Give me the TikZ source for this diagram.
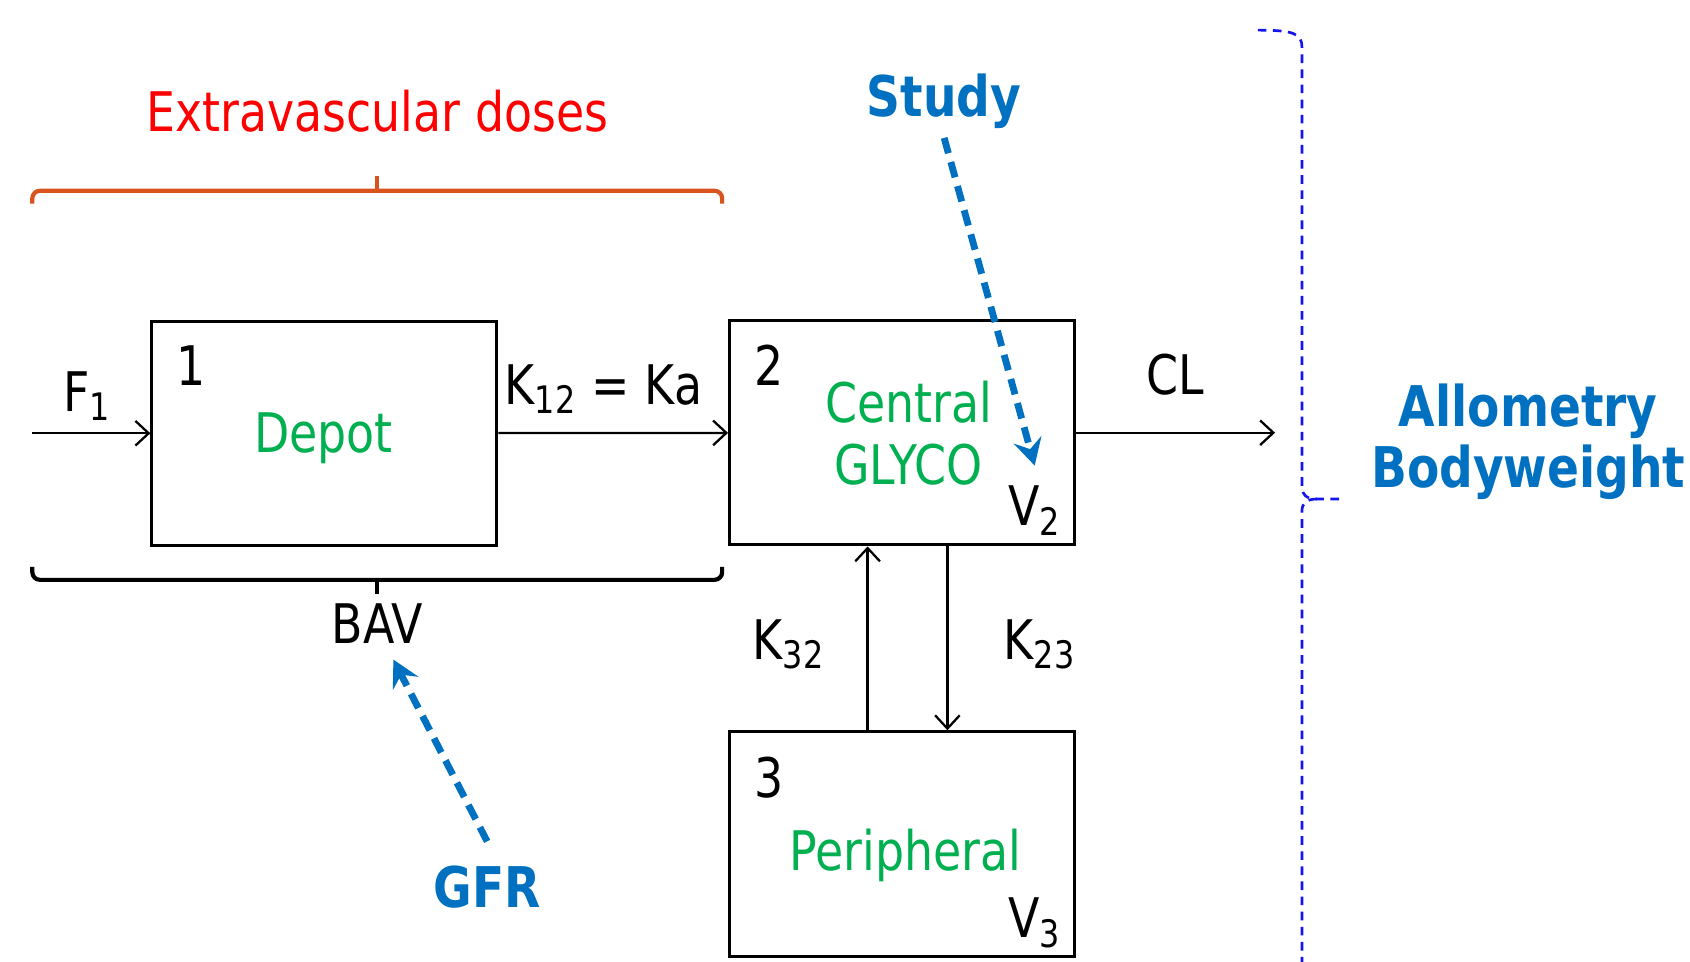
\documentclass[tikz,border=0pt]{standalone}
\usepackage{fontspec}
\setmainfont{DejaVu Sans}[FakeStretch=0.84]
\usepackage{tikz}
\usetikzlibrary{arrows.meta,positioning}
\definecolor{pkgreen}{HTML}{00B050}
\definecolor{pkblue}{HTML}{0070C0}
\definecolor{pkred}{HTML}{FF0000}
\definecolor{pkorange}{HTML}{D9531E}
\definecolor{pkbright}{HTML}{1414F0}
\newcommand{\pkfont}{\fontsize{14.4pt}{16.4pt}\selectfont}
\tikzset{
  cmtbox/.style={
    rectangle, draw=black, line width=0.8pt,
    minimum width=3.2cm, minimum height=2.08cm,
    inner sep=0pt
  },
  numlabel/.style={
    font=\pkfont, anchor=base west, inner sep=0pt
  },
  namelabel/.style={
    font=\pkfont, text=pkgreen, inner sep=0pt, align=center
  },
  ratelabel/.style={
    font=\pkfont, anchor=base, inner sep=0pt
  },
  flow/.style={
    -{Straight Barb[length=3.5pt,width=6.5pt]}, line width=0.6pt
  },
  covlabel/.style={
    font=\fontsize{14.8pt}{16.2pt}\selectfont\bfseries, text=pkblue,
    inner sep=0pt, align=center
  },
  covarrow/.style={
    -{Stealth[length=7pt,width=7.5pt,inset=2.5pt]}, line width=1.8pt,
    dash pattern=on 4.2pt off 2.4pt, color=pkblue
  },
  bracket/.style={
    line width=1.1pt, rounded corners=2pt, color=#1
  },
  bracket/.default=black,
  allobrace/.style={
    line width=0.7pt, color=pkbright, dash pattern=on 0.08cm off 0.06cm
  },
}
\begin{document}
\begin{tikzpicture}[x=0.01cm, y=-0.01cm]
  \useasboundingbox (0,0) rectangle (1568,892);

  % compartments
  \node[cmtbox] (depot) at (301,402) {};
  \node[cmtbox] (central) at (837,401.5) {};
  \node[cmtbox] (peri) at (837,783) {};

  \node[numlabel] (one) at (163,358) {1};
  \node[namelabel, anchor=base] (depotname) at (300,420) {Depot};
  \node[numlabel] (two) at (699,358) {2};
  \node[namelabel] (centralname) at (843,402) {Central\\GLYCO};
  \node[numlabel] (vtwo) at (935,488) {V\textsubscript{2}};
  \node[numlabel] (three) at (699,740) {3};
  \node[namelabel, anchor=base] (periname) at (840,808) {Peripheral};
  \node[numlabel] (vthree) at (935,870) {V\textsubscript{3}};

  % rates
  \coordinate (dose) at (30,402);
  \coordinate (elim) at (1183,401.5);
  \node[numlabel] (fone) at (58,382) {F\textsubscript{1}};
  \node[ratelabel] (ka) at (560,375) {K\textsubscript{12} = Ka};
  \node[ratelabel] (cl) at (1090,366) {CL};
  \node[ratelabel] (kin) at (732,612) {K\textsubscript{32}};
  \node[ratelabel] (kout) at (965,612) {K\textsubscript{23}};

  \draw[flow] (dose) -- (depot);
  \draw[flow] (depot) -- (central);
  \draw[flow] (central) -- (elim);
  \draw[flow] ([xshift=-0.32cm]peri.north) -- ([xshift=-0.32cm]central.south);
  \draw[flow] ([xshift=0.42cm]central.south) -- ([xshift=0.42cm]peri.north);

  % brackets
  \coordinate (evl) at (30,189);
  \coordinate (evr) at (670,189);
  \coordinate (bavl) at (30,526);
  \coordinate (bavr) at (670,526);
  \draw[bracket=pkorange] (evl) -- (30,177) -- (670,177) -- (evr);
  \draw[bracket=pkorange] (350,177) -- (350,163);
  \draw[bracket] (bavl) -- (30,538) -- (670,538) -- (bavr);
  \draw[bracket] (350,538) -- (350,551);
  \node[ratelabel, text=pkred] (extra) at (350,122) {Extravascular doses};
  \node[ratelabel] (bav) at (350,597) {BAV};

  % covariates
  \node[covlabel, anchor=base] (study) at (876,108) {Study};
  \node[covlabel, anchor=base] (gfr) at (452,842) {GFR};
  \node[covlabel] (allo) at (1418,410) {Allometry\\Bodyweight};
  \coordinate (studytip) at (960,432);
  \coordinate (bavtip) at (365,612);
  \draw[covarrow] ([yshift=-0.08cm]study.south) -- (studytip);
  \draw[covarrow] ([yshift=0.22cm]gfr.north) -- (bavtip);

  \draw[allobrace] (1167,28) .. controls (1200,28) and (1208,31) .. (1208,44)
    -- (1208,452) .. controls (1208,459) and (1212,463) .. (1222,463)
    -- (1248,463);
  \draw[allobrace] (1222,463) .. controls (1212,463) and (1208,467) .. (1208,474)
    -- (1208,900);
\end{tikzpicture}
\end{document}
